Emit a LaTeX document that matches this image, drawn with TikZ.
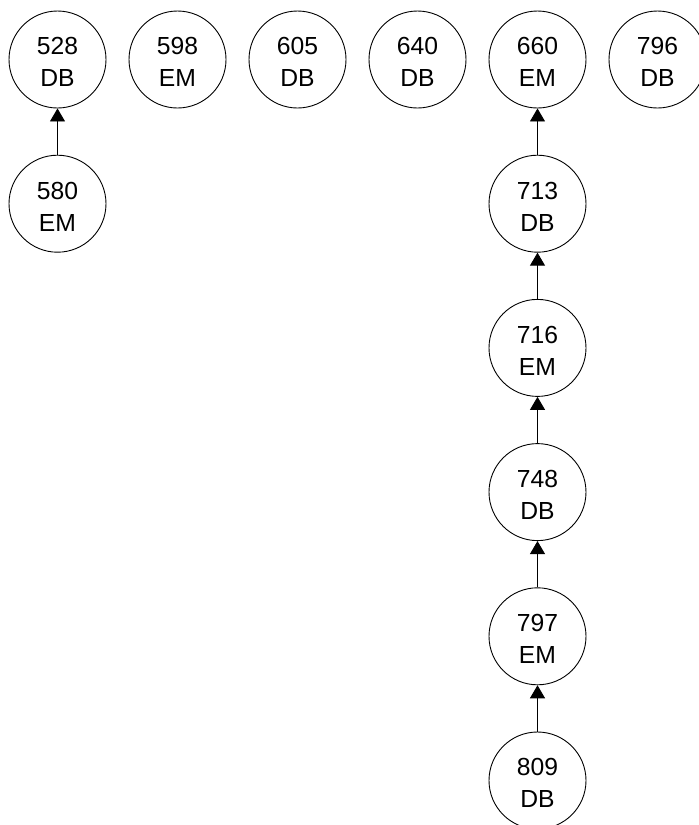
\documentclass[tikz,border=0pt]{standalone}
\usepackage{fontspec}
\setmainfont{Liberation Sans}
\usetikzlibrary{arrows.meta}

\tikzset{
  vertex/.style={draw, circle, line width=0.9pt, inner sep=0pt,
    minimum size=97pt},
  vlabel/.style={align=center, inner sep=0pt,
    font=\fontsize{24.7}{32}\selectfont},
  link/.style={line width=0.9pt, -{Triangle[width=15pt,length=13pt]}}
}

% circle plus its two-line caption, set slightly below the centre
\newcommand\vtx[3]{%
  \node[vertex] (#1) at (#2) {};
  \node[vlabel] (#1-text) at ([yshift=-2.7pt]#1.center) {#3};
}

\begin{document}
\begin{tikzpicture}[x=1pt,y=1pt]
  \clip (0,0) rectangle (699,-825);

  % top row
  \vtx{n528}{57.5,-59.5}{528\\DB}
  \vtx{n598}{177.5,-59.5}{598\\EM}
  \vtx{n605}{297.5,-59.5}{605\\DB}
  \vtx{n640}{417.5,-59.5}{640\\DB}
  \vtx{n660}{537.5,-59.5}{660\\EM}
  \vtx{n796}{657.5,-59.5}{796\\DB}

  % left chain
  \vtx{n580}{57.5,-203.7}{580\\EM}

  % right chain
  \vtx{n713}{537.5,-203.7}{713\\DB}
  \vtx{n716}{537.5,-347.9}{716\\EM}
  \vtx{n748}{537.5,-492.1}{748\\DB}
  \vtx{n797}{537.5,-636.3}{797\\EM}
  \vtx{n809}{537.5,-780.5}{809\\DB}

  % connectors
  \draw[link] (n580.north) -- (n528.south);
  \draw[link] (n713.north) -- (n660.south);
  \draw[link] (n716.north) -- (n713.south);
  \draw[link] (n748.north) -- (n716.south);
  \draw[link] (n797.north) -- (n748.south);
  \draw[link] (n809.north) -- (n797.south);
\end{tikzpicture}
\end{document}
